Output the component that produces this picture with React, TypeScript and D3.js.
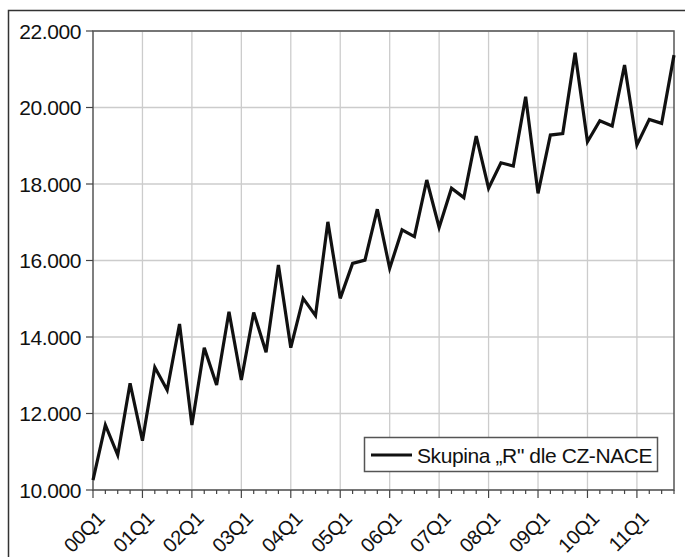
import React from "react";
import * as d3 from "d3";

const years = ["00", "01", "02", "03", "04", "05", "06", "07", "08", "09", "10", "11"];
const quarterLabels = years.flatMap((y) => ["Q1", "Q2", "Q3", "Q4"].map((q) => y + q));
const values = [
  10260, 11700, 10915, 12790, 11290, 13210, 12615, 14340,
  11700, 13720, 12745, 14660, 12875, 14640, 13600, 15880,
  13720, 15010, 14560, 17010, 15010, 15925, 16010, 17340,
  15795, 16800, 16625, 18105, 16865, 17890, 17645, 19255,
  17890, 18555, 18470, 20280, 17755, 19280, 19320, 21430,
  19105, 19655, 19515, 21110, 19020, 19690, 19585, 21370,
];
const yTicks = [10000, 12000, 14000, 16000, 18000, 20000, 22000];
const seriesName = "Skupina „R\" dle CZ-NACE";

const W = 685;
const H = 557;
const left = 93;
const right = 674;
const top = 31;
const bottom = 490;

export default function App() {
  const x = d3.scaleLinear().domain([0, values.length - 1]).range([left, right]);
  const y = d3.scaleLinear().domain([10000, 22000]).range([bottom, top]);
  const line = d3
    .line<number>()
    .x((_, i) => x(i))
    .y((d) => y(d));
  const fmt = (v: number) => d3.format(",")(v).replace(/,/g, ".");
  const font = "Arial, 'Liberation Sans', sans-serif";
  return (
    <svg
      width={W}
      height={H}
      style={{ position: "absolute", left: 0, top: 0, background: "#fff" }}
    >
      <rect x={8.5} y={10.5} width={W + 10} height={H + 10} fill="#fff" stroke="#333" strokeWidth={1.5} />
      {/* gridlines */}
      {yTicks.map((t) => (
        <line key={"gy" + t} x1={left} x2={right} y1={y(t)} y2={y(t)} stroke="#cccccc" strokeWidth={1.3} />
      ))}
      {quarterLabels.map((q, i) =>
        i % 4 === 0 && i > 0 ? (
          <line key={"gx" + q} x1={x(i)} x2={x(i)} y1={top} y2={bottom} stroke="#cccccc" strokeWidth={1.3} />
        ) : null
      )}
      {/* plot frame */}
      <rect x={left} y={top} width={right - left} height={bottom - top} fill="none" stroke="#555" strokeWidth={1.5} />
      {/* y ticks */}
      {yTicks.map((t) => (
        <g key={"yt" + t}>
          <line x1={left - 7} x2={left} y1={y(t)} y2={y(t)} stroke="#444" strokeWidth={1.2} />
          <text
            x={left - 12}
            y={y(t)}
            dy="0.36em"
            textAnchor="end"
            fontFamily={font}
            fontSize={21}
            letterSpacing={-0.4}
            fill="#111"
          >
            {fmt(t)}
          </text>
        </g>
      ))}
      {/* x ticks */}
      {quarterLabels.map((q, i) => (
        <line
          key={"xt" + q}
          x1={x(i)}
          x2={x(i)}
          y1={bottom}
          y2={bottom + (i % 4 === 0 ? 8 : 4)}
          stroke="#444"
          strokeWidth={1.2}
        />
      ))}
      {quarterLabels.map((q, i) =>
        i % 4 === 0 ? (
          <text
            key={"xl" + q}
            transform={`translate(${x(i) + 3},${bottom + 20}) rotate(-45)`}
            textAnchor="end"
            dy="0.7em"
            fontFamily={font}
            fontSize={20}
            letterSpacing={-0.3}
            fill="#111"
          >
            {q}
          </text>
        ) : null
      )}
      {/* series */}
      <path d={line(values) || ""} fill="none" stroke="#111" strokeWidth={3.2} strokeLinejoin="miter" />
      {/* legend */}
      <rect x={364.5} y={437.5} width={293} height={34} fill="#fff" stroke="#555" strokeWidth={1.5} />
      <line x1={371} x2={412} y1={455} y2={455} stroke="#111" strokeWidth={3} />
      <text x={417} y={455} dy="0.36em" fontFamily={font} fontSize={21} letterSpacing={-0.4} fill="#111">
        {seriesName}
      </text>
    </svg>
  );
}
